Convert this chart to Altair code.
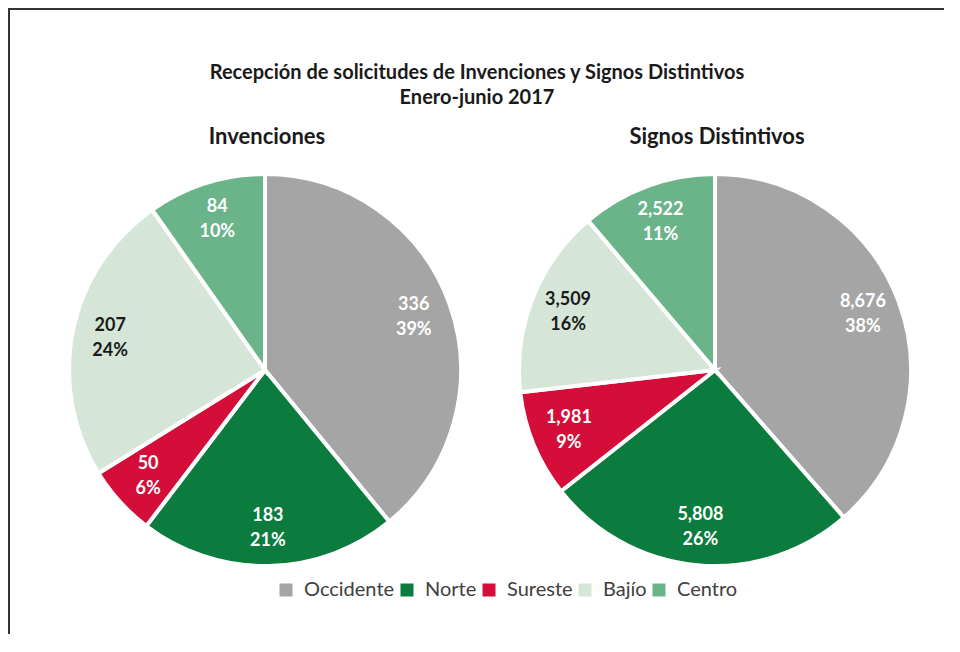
import altair as alt
import pandas as pd

charts = ["Invenciones", "Signos Distintivos"]
regions = ["Occidente", "Norte", "Sureste", "Bajío", "Centro"]
inv_values = [336, 183, 50, 207, 84]
inv_pct = ["39%", "21%", "6%", "24%", "10%"]
sig_values = [8676, 5808, 1981, 3509, 2522]
sig_pct = ["38%", "26%", "9%", "16%", "11%"]
colors = ["#A5A5A5", "#0B7B3E", "#D40E39", "#D5E6D8", "#6BB48A"]
title_lines = ["Recepción de solicitudes de Invenciones y Signos Distintivos", "Enero-junio 2017"]

rows = []
for chart, vals, pcts in [(charts[0], inv_values, inv_pct), (charts[1], sig_values, sig_pct)]:
    for i, (r, v, p) in enumerate(zip(regions, vals, pcts)):
        rows.append({"chart": chart, "region": r, "order": i, "value": v,
                     "label": f"{v:,}\n{p}"})
df = pd.DataFrame(rows)

W, H = 936, 626
FONT = "Lato"
CY = 362

xscale = alt.Scale(type="point", domain=charts, range=[257, 707], padding=0)
xenc = alt.X("chart:N", scale=xscale, axis=None)
color = alt.Color(
    "region:N",
    scale=alt.Scale(domain=regions, range=colors),
    legend=alt.Legend(
        orient="none", legendX=268, legendY=572, direction="horizontal", title=None,
        symbolType="square", symbolSize=169, symbolStrokeWidth=0,
        labelFont=FONT, labelFontSize=20, labelColor="#404040",
        columnPadding=2, labelOffset=8,
    ),
)

layers = []
for c in charts:
    arc = alt.Chart(df).transform_filter(alt.datum.chart == c).mark_arc(
        outerRadius=196, stroke="white", strokeWidth=4
    ).encode(
        theta=alt.Theta("value:Q", stack=True),
        color=color,
        order=alt.Order("order:Q"),
        x=xenc,
        y=alt.value(CY),
    )
    txt = alt.Chart(df).transform_filter(alt.datum.chart == c).mark_text(
        radius=158, font=FONT, fontSize=18, fontWeight="bold",
        lineBreak="\n", lineHeight=25, baseline="middle", align="center", dy=-12,
    ).encode(
        theta=alt.Theta("value:Q", stack=True),
        order=alt.Order("order:Q"),
        detail="region:N",
        text="label:N",
        x=xenc,
        y=alt.value(CY),
        color=alt.condition(alt.datum.region == "Bajío", alt.value("#1a1a1a"), alt.value("white")),
    )
    layers.append(alt.layer(arc, txt))

subtitles = alt.Chart(pd.DataFrame({"chart": charts})).mark_text(
    font=FONT, fontSize=22, fontWeight="bold", color="#1a1a1a", baseline="middle", dx=2
).encode(x=xenc, y=alt.value(129), text="chart:N")

main_title = alt.Chart(pd.DataFrame({"t": ["\n".join(title_lines)]})).mark_text(
    font=FONT, fontSize=20, fontWeight="bold", color="#1a1a1a",
    lineBreak="\n", lineHeight=25, baseline="middle", align="center",
).encode(x=alt.value(469), y=alt.value(65), text="t:N")

frame_df = pd.DataFrame({"k": [0]})
left_edge = alt.Chart(frame_df).mark_rect(color="#333333").encode(
    x=alt.value(0), x2=alt.value(2), y=alt.value(0), y2=alt.value(H))
top_edge = alt.Chart(frame_df).mark_rect(color="#333333").encode(
    x=alt.value(0), x2=alt.value(W), y=alt.value(0), y2=alt.value(2))

chart = alt.layer(*layers, subtitles, main_title, left_edge, top_edge).resolve_scale(
    theta="independent"
).properties(
    width=W, height=H, padding=0
).configure_view(stroke=None)

chart.save("out.html", embed_options={"renderer": "svg", "actions": False})
